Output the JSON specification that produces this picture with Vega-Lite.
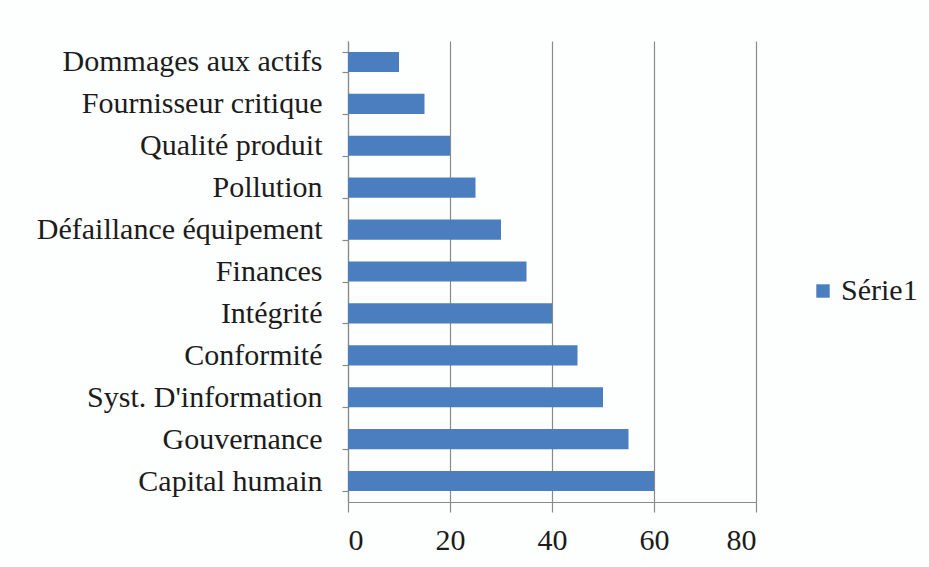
{
  "$schema": "https://vega.github.io/schema/vega-lite/v6.json",
  "autosize": "none",
  "width": 408,
  "height": 461,
  "padding": {"left": 348, "top": 41, "right": 173, "bottom": 65},
  "background": "#fdfefe",
  "data": {
    "values": [
      {"categorie": "Dommages aux actifs", "valeur": 10, "serie": "Série1"},
      {"categorie": "Fournisseur critique", "valeur": 15, "serie": "Série1"},
      {"categorie": "Qualité produit", "valeur": 20, "serie": "Série1"},
      {"categorie": "Pollution", "valeur": 25, "serie": "Série1"},
      {"categorie": "Défaillance équipement", "valeur": 30, "serie": "Série1"},
      {"categorie": "Finances", "valeur": 35, "serie": "Série1"},
      {"categorie": "Intégrité", "valeur": 40, "serie": "Série1"},
      {"categorie": "Conformité", "valeur": 45, "serie": "Série1"},
      {"categorie": "Syst. D'information", "valeur": 50, "serie": "Série1"},
      {"categorie": "Gouvernance", "valeur": 55, "serie": "Série1"},
      {"categorie": "Capital humain", "valeur": 60, "serie": "Série1"}
    ]
  },
  "mark": {"type": "bar"},
  "encoding": {
    "y": {
      "field": "categorie",
      "type": "nominal",
      "sort": "x",
      "title": null,
      "scale": {"paddingInner": 0.52, "paddingOuter": 0.26},
      "axis": {
        "tickBand": "extent",
        "tickSize": 6,
        "labelPadding": 20,
        "labelFont": "Liberation Serif",
        "labelFontSize": 30,
        "labelLimit": 345,
        "grid": false
      }
    },
    "x": {
      "field": "valeur",
      "type": "quantitative",
      "title": null,
      "scale": {"domain": [0, 80], "nice": false},
      "axis": {
        "values": [0, 20, 40, 60, 80],
        "tickSize": 10,
        "labelPadding": 13,
        "labelFont": "Liberation Serif",
        "labelFontSize": 30,
        "grid": true
      }
    },
    "color": {
      "field": "serie",
      "type": "nominal",
      "scale": {"range": ["#4a7ebf"]},
      "legend": {
        "title": null,
        "orient": "none",
        "legendX": 460,
        "legendY": 235,
        "symbolType": "square",
        "symbolSize": 180,
        "symbolStrokeWidth": 0,
        "labelFont": "Liberation Serif",
        "labelFontSize": 30,
        "labelOffset": 3
      }
    }
  },
  "config": {
    "view": {"stroke": null},
    "axis": {
      "labelColor": "#1c1c1c",
      "domainColor": "#8a8a8a",
      "tickColor": "#8a8a8a",
      "gridColor": "#8a8a8a",
      "gridOpacity": 1,
      "domainWidth": 1.2,
      "tickWidth": 1.2,
      "gridWidth": 1.2
    },
    "legend": {"labelColor": "#1c1c1c"}
  }
}
